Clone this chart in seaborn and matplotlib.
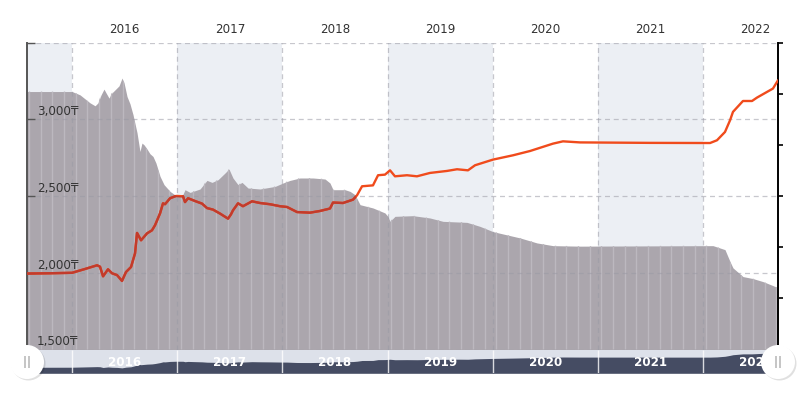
import numpy as np
import pandas as pd
import matplotlib.pyplot as plt
import matplotlib.transforms as mtransforms
from matplotlib.patches import Circle
import seaborn as sns

# price line (left axis, tenge), x in fractional years
price_year = [2015.572, 2015.791, 2016.000, 2016.124, 2016.238, 2016.266, 2016.295, 2016.342,
              2016.380, 2016.428, 2016.475, 2016.513, 2016.561, 2016.599, 2016.618, 2016.656,
              2016.713, 2016.760, 2016.789, 2016.837, 2016.865, 2016.884, 2016.932, 2016.989,
              2017.055, 2017.074, 2017.103, 2017.169, 2017.236, 2017.283, 2017.340, 2017.407,
              2017.483, 2017.511, 2017.530, 2017.578, 2017.625, 2017.711, 2017.787, 2017.882,
              2017.977, 2018.044, 2018.139, 2018.262, 2018.357, 2018.452, 2018.481, 2018.576,
              2018.671, 2018.709, 2018.757, 2018.861, 2018.909, 2018.975, 2019.023, 2019.070,
              2019.184, 2019.279, 2019.403, 2019.564, 2019.660, 2019.764, 2019.831, 2020.002,
              2020.192, 2020.354, 2020.572, 2020.667, 2020.829, 2021.494, 2022.065, 2022.131,
              2022.207, 2022.255, 2022.283, 2022.378, 2022.464, 2022.511, 2022.606, 2022.663,
              2022.711]
price_value = [1995, 1997, 2000, 2025, 2049, 2040, 1977, 2023,
               1997, 1985, 1947, 2005, 2038, 2127, 2260, 2212,
               2257, 2277, 2310, 2388, 2453, 2447, 2486, 2501,
               2499, 2461, 2486, 2468, 2451, 2422, 2412, 2386,
               2353, 2381, 2407, 2453, 2434, 2466, 2455, 2447,
               2434, 2429, 2396, 2392, 2403, 2419, 2458, 2455,
               2477, 2505, 2564, 2570, 2636, 2640, 2668, 2629,
               2636, 2629, 2651, 2664, 2675, 2668, 2701, 2738,
               2766, 2794, 2842, 2857, 2850, 2847, 2846, 2864,
               2918, 2994, 3049, 3120, 3120, 3142, 3179, 3201,
               3255]

# grey background series (right axis, no labels)
area_year = [2015.572, 2016.000, 2016.076, 2016.171, 2016.219, 2016.247, 2016.276, 2016.304,
             2016.323, 2016.352, 2016.371, 2016.409, 2016.447, 2016.475, 2016.494, 2016.523,
             2016.551, 2016.580, 2016.618, 2016.646, 2016.665, 2016.684, 2016.713, 2016.741,
             2016.770, 2016.798, 2016.837, 2016.875, 2016.932, 2016.989, 2017.046, 2017.074,
             2017.122, 2017.217, 2017.283, 2017.331, 2017.388, 2017.454, 2017.492, 2017.530,
             2017.578, 2017.616, 2017.673, 2017.787, 2017.930, 2018.006, 2018.072, 2018.167,
             2018.291, 2018.405, 2018.452, 2018.481, 2018.595, 2018.643, 2018.690, 2018.738,
             2018.861, 2018.975, 2019.004, 2019.023, 2019.070, 2019.241, 2019.403, 2019.527,
             2019.755, 2019.878, 2020.002, 2020.259, 2020.420, 2020.572, 2020.829, 2022.093,
             2022.207, 2022.255, 2022.283, 2022.378, 2022.473, 2022.568, 2022.663, 2022.711]
area_value = [5.045, 5.045, 4.980, 4.824, 4.766, 4.824, 4.980, 5.092,
              5.020, 4.916, 5.000, 5.078, 5.156, 5.307, 5.221, 4.947,
              4.805, 4.590, 4.238, 3.873, 4.037, 4.004, 3.920, 3.828,
              3.775, 3.646, 3.385, 3.223, 3.092, 3.008, 2.994, 3.125,
              3.072, 3.139, 3.307, 3.268, 3.320, 3.451, 3.529, 3.354,
              3.223, 3.268, 3.158, 3.139, 3.189, 3.256, 3.307, 3.354,
              3.354, 3.334, 3.256, 3.125, 3.125, 3.092, 3.027, 2.832,
              2.768, 2.670, 2.598, 2.506, 2.604, 2.617, 2.572, 2.506,
              2.486, 2.408, 2.305, 2.182, 2.084, 2.031, 2.021, 2.031,
              1.953, 1.719, 1.596, 1.426, 1.387, 1.328, 1.250, 1.205]

years = [2016, 2017, 2018, 2019, 2020, 2021, 2022]
price_ticks = [1500, 2000, 2500, 3000]
area_ticks = [0, 1, 2, 3, 4, 5, 6]

df = pd.DataFrame({'year': price_year, 'price': price_value})

sns.set_style('white')
plt.rcParams['font.family'] = ['DejaVu Sans']

XMIN, XMAX = 2015.572, 2022.711
BRIGHT = '#f04b1c'
DARK = '#c23b2c'
TEXT = '#333333'

fig = plt.figure(figsize=(8.02, 3.99), dpi=100)
pos = [27 / 802, 1 - 349.5 / 399, 751 / 802, 306.8 / 399]
ax_area = fig.add_axes(pos)
ax = fig.add_axes(pos, sharex=ax_area)
ax.patch.set_visible(False)

# alternating year bands
for s, e in [(XMIN, 2016), (2017, 2018), (2019, 2020), (2021, 2022)]:
    ax_area.axvspan(s, e, color='#eceff4', lw=0, zorder=0)

poly = ax_area.fill_between(area_year, area_value, 0, color='#aba6ad', lw=0, zorder=1)
clip = poly.get_paths()[0]
stripes = ax_area.vlines(np.arange(XMIN + 0.02, XMAX, 0.111), 0, 6, colors='#bcb8bf', lw=1, zorder=2)
stripes.set_clip_path(clip, ax_area.transData)
ax_area.set_ylim(0, 6)
ax_area.set_xlim(XMIN, XMAX)
ax_area.set_yticks(area_ticks)
ax_area.yaxis.tick_right()
ax_area.tick_params(axis='y', direction='out', length=3.8, width=1.2, color='black', labelright=False)
ax_area.tick_params(axis='x', which='both', bottom=False, top=False,
                    labelbottom=False, labeltop=False)
for side in ['left', 'top', 'bottom']:
    ax_area.spines[side].set_visible(False)
ax_area.spines['right'].set_color('black')
ax_area.spines['right'].set_linewidth(1.4)

# price line
sns.lineplot(data=df, x='year', y='price', ax=ax, color=BRIGHT, lw=1.7, zorder=3)
dark = ax.plot(price_year, price_value, color=DARK, lw=1.7, zorder=4)[0]
dark.set_clip_path(clip, ax_area.transData)

ax.set_ylim(1500, 3500)
ax.set_yticks(price_ticks + [3500])
ax.yaxis.tick_left()
ax.tick_params(axis='y', direction='in', length=6, width=1, color='#555555', labelleft=False)
ax.set_xticks(years)
ax.set_xticks([y + 0.5 for y in years], minor=True)
ax.set_xticklabels([str(y) for y in years], minor=True)
ax.set_xticklabels([''] * len(years))
ax.xaxis.tick_top()
ax.tick_params(axis='x', which='both', length=0, pad=5, labelsize=8.6, labelcolor=TEXT)
ax.grid(True, which='major', color='#9a9aa5', alpha=0.55, lw=0.9, ls=(0, (4, 3)))
ax.set_axisbelow(True)
ax.set_xlabel('')
ax.set_ylabel('')
for side in ['right', 'top', 'bottom']:
    ax.spines[side].set_visible(False)
ax.spines['left'].set_color('#555555')
ax.spines['left'].set_linewidth(1.4)
ax.set_xlim(XMIN, XMAX)

trans = mtransforms.blended_transform_factory(ax.transAxes, ax.transData)
for v in price_ticks:
    ax.text(0.013, v + 8, f'{v:,}₸', transform=trans, ha='left', va='bottom',
            fontsize=8.6, color=TEXT, zorder=6)

# navigator
nav = fig.add_axes([27 / 802, 1 - 373.3 / 399, 751 / 802, 23.3 / 399])
nav.set_facecolor('#dde1ea')
nav.fill_between(price_year, price_value, 1490, color='#454c63', lw=0)
nav.vlines(years, 1490, 3445, colors='white', lw=1, alpha=0.8)
nav.set_xlim(XMIN, XMAX)
nav.set_ylim(1490, 3445)
nav.set_xticks([])
nav.set_yticks([])
for s in nav.spines.values():
    s.set_visible(False)
ntrans = mtransforms.blended_transform_factory(nav.transData, nav.transAxes)
for y in years:
    nav.text(y + 0.5, 0.45, str(y), transform=ntrans, ha='center', va='center',
             color='white', fontsize=8.6, fontweight='bold')

# scrollbar grips
over = fig.add_axes([0, 0, 1, 1])
over.set_xlim(0, 802)
over.set_ylim(399, 0)
over.axis('off')
for cx in [27, 778]:
    over.add_patch(Circle((cx + 1.5, 363.5), 17, color='#000000', alpha=0.12, lw=0))
    over.add_patch(Circle((cx, 362), 17, color='white', lw=0))
    over.vlines([cx - 1.8, cx + 1.8], 356, 368, colors='#b5b5b5', lw=1.1)

fig.savefig('out.png', dpi=100)
